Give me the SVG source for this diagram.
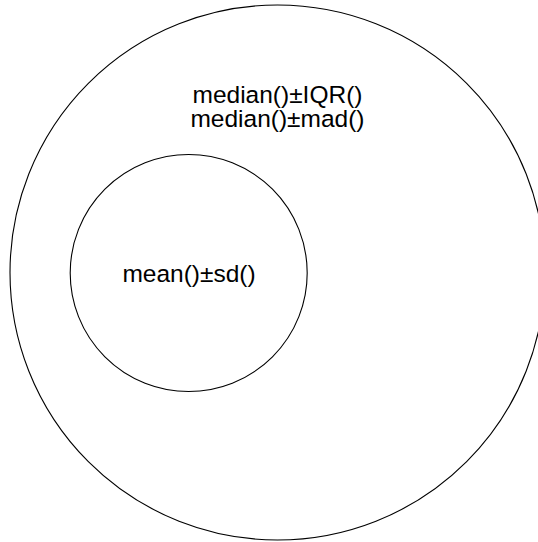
<svg xmlns="http://www.w3.org/2000/svg" width="538" height="542" viewBox="0 0 538 542">
<style>
.c{fill:none;stroke:#000;stroke-width:1.1}
.t{font-family:"Liberation Sans",Arial,sans-serif;font-size:24.5px;fill:#000;text-anchor:middle}
</style>
<rect width="538" height="542" fill="#fff"/>
<g id="outer"><circle class="c" cx="277.5" cy="272.5" r="267.5"/>
<text class="t" x="277.5" y="102.5">median()±IQR()</text>
<text class="t" x="277.5" y="127">median()±mad()</text></g>
<g id="inner"><circle class="c" cx="188.7" cy="273" r="118.5"/>
<text class="t" x="189" y="282">mean()±sd()</text></g>
<g id="connectors"/>
</svg>
